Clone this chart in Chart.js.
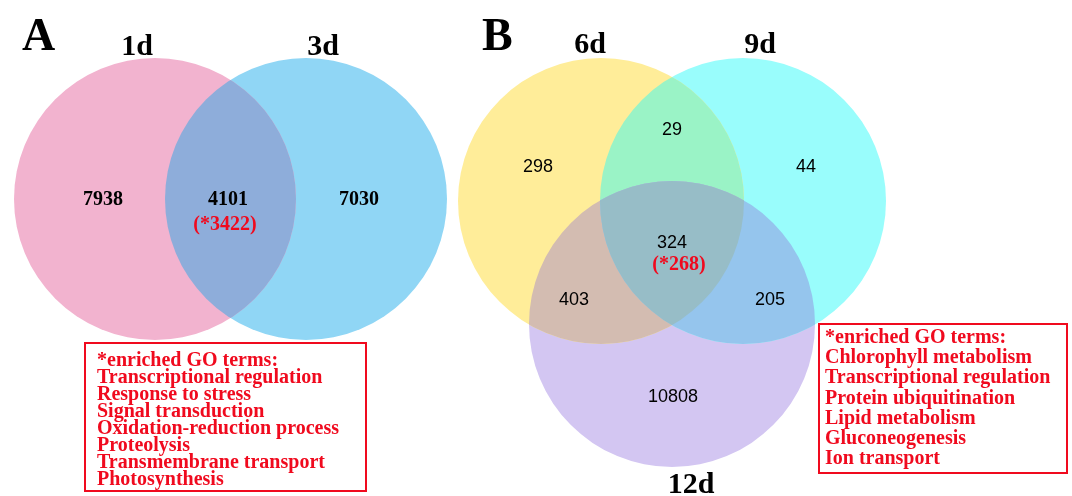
<!DOCTYPE html>
<html>
<head>
<meta charset="utf-8">
<script src="https://cdn.jsdelivr.net/npm/chart.js@4.4.1/dist/chart.umd.min.js"></script>
<style>
  body { margin: 0; background: #fff; }
  #wrap { width: 1072px; height: 496px; position: relative; }
</style>
</head>
<body>
<div id="wrap"><canvas id="venn"></canvas></div>
<script>
// --- data ---
const panelLetters = ['A', 'B'];

const setNamesA = ['1d', '3d'];
// 1d only, 1d∩3d, 3d only
const regionCountsA = [7938, 4101, 7030];
const enrichedA = 3422;
const goTermsA = [
  '*enriched GO terms:',
  'Transcriptional regulation',
  'Response to stress',
  'Signal transduction',
  'Oxidation-reduction process',
  'Proteolysis',
  'Transmembrane transport',
  'Photosynthesis'
];

const setNamesB = ['6d', '9d', '12d'];
// 6d only, 6d∩9d, 9d only, all three, 6d∩12d, 9d∩12d, 12d only
const regionCountsB = [298, 29, 44, 324, 403, 205, 10808];
const enrichedB = 268;
const goTermsB = [
  '*enriched GO terms:',
  'Chlorophyll metabolism',
  'Transcriptional regulation',
  'Protein ubiquitination',
  'Lipid metabolism',
  'Gluconeogenesis',
  'Ion transport'
];

// --- layout (chart units = pixels of the 1072x496 page) ---
const circles = [
  { x: 155, y: 199, r: 141, color: '#F2B3CF' }, // 1d
  { x: 306, y: 199, r: 141, color: '#90D6F5' }, // 3d
  { x: 601, y: 201, r: 143, color: '#FFED99' }, // 6d
  { x: 743, y: 201, r: 143, color: '#99FDFC' }, // 9d
  { x: 672, y: 324, r: 143, color: '#D3C6F2' }  // 12d
];
// overlap fills, in drawing order (indices into circles)
const overlaps = [
  { sets: [0, 1], color: '#8EADDA' },
  { sets: [2, 3], color: '#9AF3C6' },
  { sets: [2, 4], color: '#D3BCB1' },
  { sets: [3, 4], color: '#95C5ED' },
  { sets: [2, 3, 4], color: '#97BDC7' }
];
const setLabelPos = [[137, 55], [323, 55], [590, 53], [760, 53], [691, 493]];
const letterPos = [[22, 50], [482, 50]];
const regionPosA = [[103, 200], [228, 200], [359, 200]];
const enrichedPosA = [225, 225];
const regionPosB = [[538, 167], [672, 130], [806, 167], [672, 243], [574, 300], [770, 300], [673, 397]];
const enrichedPosB = [679, 265];
const boxA = { x: 85, y: 343, w: 281, h: 148, tx: 97, base: 366, step: 17 };
const boxB = { x: 819, y: 324, w: 248, h: 149, tx: 825, base: 343, step: 20.2 };

const RED = '#F00A1E';
const SERIF = '"Liberation Serif", "Times New Roman", serif';
const SANS = '"Liberation Sans", Arial, sans-serif';

const vennPlugin = {
  id: 'venn',
  afterDatasetsDraw(chart) {
    const ctx = chart.ctx;
    const sx = chart.scales.x, sy = chart.scales.y;
    const px = v => sx.getPixelForValue(v);
    const py = v => sy.getPixelForValue(v);
    const els = chart.data.datasets.map((d, i) => {
      const el = chart.getDatasetMeta(i).data[0];
      return { x: el.x, y: el.y, r: el.options.radius };
    });

    // overlap regions
    overlaps.forEach(o => {
      ctx.save();
      o.sets.forEach(k => {
        ctx.beginPath();
        ctx.arc(els[k].x, els[k].y, els[k].r, 0, Math.PI * 2);
        ctx.clip();
      });
      ctx.fillStyle = o.color;
      ctx.fillRect(0, 0, chart.width, chart.height);
      ctx.restore();
    });

    ctx.save();
    ctx.fillStyle = '#000';
    ctx.textBaseline = 'alphabetic';

    // panel letters
    ctx.textAlign = 'left';
    ctx.font = 'bold 46px ' + SERIF;
    panelLetters.forEach((t, i) => ctx.fillText(t, px(letterPos[i][0]), py(letterPos[i][1])));

    // set names
    ctx.textAlign = 'center';
    ctx.font = 'bold 30px ' + SERIF;
    setNamesA.concat(setNamesB).forEach((t, i) => ctx.fillText(t, px(setLabelPos[i][0]), py(setLabelPos[i][1])));

    // region counts
    ctx.textBaseline = 'middle';
    ctx.font = 'bold 20px ' + SERIF;
    regionCountsA.forEach((v, i) => ctx.fillText(String(v), px(regionPosA[i][0]), py(regionPosA[i][1])));
    ctx.font = '18px ' + SANS;
    regionCountsB.forEach((v, i) => ctx.fillText(String(v), px(regionPosB[i][0]), py(regionPosB[i][1])));

    ctx.fillStyle = RED;
    ctx.font = 'bold 20px ' + SERIF;
    ctx.fillText('(*' + enrichedA + ')', px(enrichedPosA[0]), py(enrichedPosA[1]));
    ctx.fillText('(*' + enrichedB + ')', px(enrichedPosB[0]), py(enrichedPosB[1]));

    // GO term boxes
    ctx.textBaseline = 'alphabetic';
    ctx.textAlign = 'left';
    ctx.strokeStyle = RED;
    ctx.lineWidth = 2;
    [[boxA, goTermsA], [boxB, goTermsB]].forEach(([b, terms]) => {
      ctx.strokeRect(px(b.x), py(b.y), b.w, b.h);
      terms.forEach((t, i) => ctx.fillText(t, px(b.tx), py(b.base + i * b.step)));
    });
    ctx.restore();
  }
};

new Chart(document.getElementById('venn'), {
  type: 'bubble',
  data: {
    datasets: circles.map((c, i) => ({
      label: i < 2 ? setNamesA[i] : setNamesB[i - 2],
      data: [{ x: c.x, y: c.y, r: c.r }],
      backgroundColor: c.color,
      borderWidth: 0,
      hoverRadius: 0
    }))
  },
  options: {
    responsive: true,
    maintainAspectRatio: false,
    animation: false,
    events: [],
    layout: { padding: 0, autoPadding: false },
    plugins: { legend: { display: false }, tooltip: { enabled: false } },
    scales: {
      x: { type: 'linear', min: 0, max: 1072, display: false },
      y: { type: 'linear', min: 0, max: 496, reverse: true, display: false }
    }
  },
  plugins: [vennPlugin]
});
</script>
</body>
</html>
